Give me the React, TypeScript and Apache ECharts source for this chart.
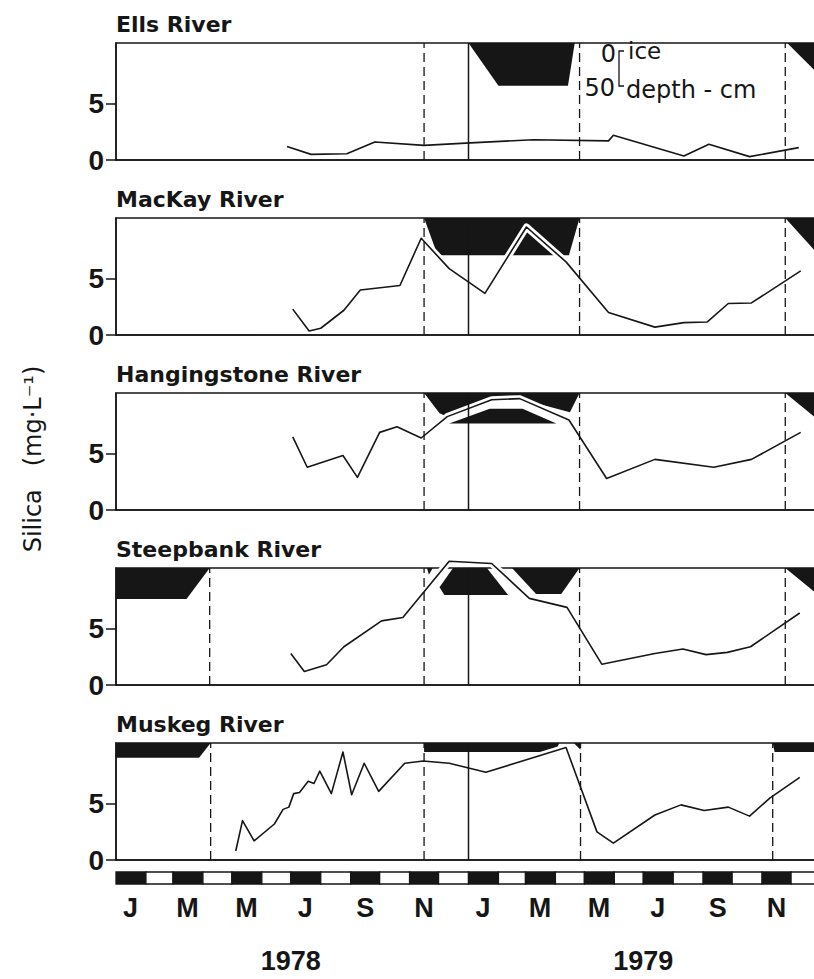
import React, { useEffect, useRef } from 'react';
import * as echarts from 'echarts';

// ---------- data ----------
const riverNames = ['Ells River', 'MacKay River', 'Hangingstone River', 'Steepbank River', 'Muskeg River'];

const ellsDates = ['1978-06-27', '1978-07-22', '1978-08-28', '1978-09-26', '1978-11-16', '1978-12-29', '1979-03-09', '1979-05-26', '1979-05-31', '1979-08-12', '1979-09-07', '1979-10-19', '1979-12-09'];
const ellsSilica = [1.2, 0.5, 0.55, 1.6, 1.3, 1.5, 1.8, 1.7, 2.2, 0.35, 1.4, 0.3, 1.1];

const mackayDates = ['1978-07-03', '1978-07-20', '1978-08-01', '1978-08-25', '1978-09-11', '1978-10-22', '1978-11-13', '1978-12-12', '1979-01-18', '1979-03-02', '1979-04-12', '1979-05-26', '1979-07-13', '1979-08-12', '1979-09-05', '1979-09-27', '1979-10-21', '1979-12-11'];
const mackaySilica = [2.3, 0.35, 0.6, 2.2, 4.0, 4.4, 8.6, 5.9, 3.7, 9.6, 6.5, 2.0, 0.7, 1.1, 1.15, 2.8, 2.85, 5.7];

const hangDates = ['1978-07-03', '1978-07-18', '1978-08-24', '1978-09-08', '1978-10-01', '1978-10-19', '1978-11-13', '1978-12-10', '1979-01-25', '1979-02-23', '1979-04-15', '1979-05-24', '1979-07-13', '1979-09-12', '1979-10-21', '1979-12-11'];
const hangSilica = [6.5, 3.8, 4.85, 2.9, 6.9, 7.4, 6.4, 8.3, 9.8, 9.9, 8.0, 2.8, 4.5, 3.8, 4.5, 6.9];

const steepDates = ['1978-07-01', '1978-07-15', '1978-08-07', '1978-08-25', '1978-10-03', '1978-10-25', '1978-12-12', '1979-01-25', '1979-03-05', '1979-04-13', '1979-05-19', '1979-07-13', '1979-08-11', '1979-09-04', '1979-09-26', '1979-10-20', '1979-12-10'];
const steepSilica = [2.8, 1.2, 1.8, 3.4, 5.7, 6.0, 11.0, 10.8, 7.7, 6.9, 1.85, 2.8, 3.2, 2.7, 2.9, 3.4, 6.4];

const muskegDates = ['1978-05-05', '1978-05-12', '1978-05-24', '1978-06-14', '1978-06-23', '1978-06-29', '1978-07-04', '1978-07-10', '1978-07-19', '1978-07-25', '1978-07-31', '1978-08-12', '1978-08-24', '1978-09-02', '1978-09-15', '1978-09-30', '1978-10-27', '1978-11-15', '1978-12-12', '1979-01-19', '1979-04-12', '1979-05-14', '1979-05-31', '1979-07-13', '1979-08-09', '1979-09-02', '1979-09-27', '1979-10-19', '1979-11-09', '1979-12-10'];
const muskegSilica = [0.8, 3.5, 1.7, 3.2, 4.5, 4.7, 5.9, 6.0, 7.0, 6.8, 7.9, 5.9, 9.6, 5.8, 8.6, 6.1, 8.6, 8.8, 8.6, 7.8, 10.0, 2.5, 1.5, 4.0, 4.9, 4.4, 4.7, 3.9, 5.5, 7.35];

// ice cover outlines (date, position on the silica scale)
const ellsIce: [string, number][][] = [
  [['1979-01-01', 10.4], ['1979-04-21', 10.4], ['1979-04-14', 6.6], ['1979-02-01', 6.6]],
  [['1979-11-27', 10.4], ['1980-01-01', 10.4], ['1980-01-01', 7.4]],
];
const mackayIce: [string, number][][] = [
  [['1978-11-16', 10.4], ['1979-04-26', 10.4], ['1979-04-15', 7.1], ['1978-11-30', 7.1]],
  [['1979-11-25', 10.4], ['1980-01-01', 10.4], ['1980-01-01', 6.9]],
];
const hangIce: [string, number][][] = [
  [['1978-11-16', 10.4], ['1979-04-26', 10.4], ['1979-04-16', 8.7], ['1979-02-23', 9.9], ['1979-01-25', 9.8], ['1978-12-10', 8.3], ['1978-12-02', 8.6]],
  [['1978-12-12', 7.7], ['1979-01-23', 9.0], ['1979-02-26', 9.0], ['1979-04-02', 7.7]],
  [['1979-11-25', 10.4], ['1980-01-01', 10.4], ['1980-01-01', 7.8]],
];
const steepIce: [string, number][][] = [
  [['1978-01-01', 10.4], ['1978-04-08', 10.4], ['1978-03-15', 7.65], ['1978-01-01', 7.65]],
  [['1978-11-19', 10.4], ['1978-11-25', 10.4], ['1978-11-21', 9.8]],
  [['1978-12-16', 10.4], ['1979-01-20', 10.4], ['1979-02-11', 8.0], ['1978-12-07', 8.0], ['1978-12-02', 8.7]],
  [['1979-02-15', 10.4], ['1979-04-26', 10.4], ['1979-04-07', 8.1], ['1979-03-12', 8.1]],
  [['1979-11-25', 10.4], ['1980-01-01', 10.4], ['1980-01-01', 7.8]],
];
const muskegIce: [string, number][][] = [
  [['1978-01-01', 10.4], ['1978-04-09', 10.4], ['1978-03-28', 9.1], ['1978-01-01', 9.1]],
  [['1978-11-16', 10.4], ['1979-04-05', 10.4], ['1979-04-01', 9.6], ['1978-11-16', 9.6]],
  [['1979-04-20', 10.4], ['1979-04-27', 10.4], ['1979-04-27', 9.8]],
  [['1979-11-12', 10.4], ['1980-01-01', 10.4], ['1980-01-01', 9.6], ['1979-11-14', 9.6]],
];

// freeze-up / break-up (dashed) lines
const ellsIceLines = ['1978-11-16', '1979-04-26', '1979-11-25'];
const mackayIceLines = ['1978-11-16', '1979-04-26', '1979-11-25'];
const hangIceLines = ['1978-11-16', '1979-04-26', '1979-11-25'];
const steepIceLines = ['1978-04-08', '1978-11-16', '1979-04-26', '1979-11-25'];
const muskegIceLines = ['1978-04-09', '1978-11-16', '1979-04-27', '1979-11-12'];
const yearLine = '1979-01-01';

// period in which the line is drawn over the ice cover (white halo)
const haloRanges: ([string, string] | null)[] = [
  null,
  ['1978-11-01', '1979-04-30'],
  ['1978-11-01', '1979-04-30'],
  ['1978-10-20', '1979-05-01'],
  ['1979-01-01', '1979-05-20'],
];

const yTickValues = [0, 5];
const monthLabels = ['J', 'M', 'M', 'J', 'S', 'N', 'J', 'M', 'M', 'J', 'S', 'N'];
const monthLabelDates = ['1978-01-16', '1978-03-16', '1978-05-16', '1978-07-16', '1978-09-16', '1978-11-16', '1979-01-16', '1979-03-16', '1979-05-16', '1979-07-16', '1979-09-16', '1979-11-16'];
const yearLabels = ['1978', '1979'];
const yearLabelDates = ['1978-07-01', '1979-07-01'];

// ---------- helpers / layout ----------
const ORIGIN = Date.UTC(1978, 0, 1);
const day = (s: string) => (Date.UTC(+s.slice(0, 4), +s.slice(5, 7) - 1, +s.slice(8, 10)) - ORIGIN) / 86400000;
const X_MAX = day('1980-01-01');
const Y_MAX = 10.4;
const INK = '#161616';
const FONT = 'DejaVu Sans';
const FONT2 = 'Liberation Sans';
const ZERO_Y = [160, 335, 510, 685, 860];
const PLOT_H = 117;
const GRID_LEFT = 116;
const GRID_W = 705;

const rivers = [
  { name: riverNames[0], dates: ellsDates, silica: ellsSilica, ice: ellsIce, lines: ellsIceLines },
  { name: riverNames[1], dates: mackayDates, silica: mackaySilica, ice: mackayIce, lines: mackayIceLines },
  { name: riverNames[2], dates: hangDates, silica: hangSilica, ice: hangIce, lines: hangIceLines },
  { name: riverNames[3], dates: steepDates, silica: steepSilica, ice: steepIce, lines: steepIceLines },
  { name: riverNames[4], dates: muskegDates, silica: muskegSilica, ice: muskegIce, lines: muskegIceLines },
];

const monthStarts: number[] = [];
for (let y = 1978; y <= 1979; y++) for (let m = 0; m < 12; m++) monthStarts.push((Date.UTC(y, m, 1) - ORIGIN) / 86400000);
monthStarts.push(X_MAX);
const monthLabelDays = monthLabelDates.map(day);
const yearLabelDays = yearLabelDates.map(day);

function buildOption() {
  const grids: any[] = [];
  const xAxes: any[] = [];
  const yAxes: any[] = [];
  const series: any[] = [];
  const titles: any[] = [];

  rivers.forEach((r, i) => {
    const top = ZERO_Y[i] - PLOT_H;
    grids.push({ left: GRID_LEFT, width: GRID_W, top, height: PLOT_H, show: true, borderColor: INK, borderWidth: 1.5, backgroundColor: 'transparent', outerBoundsMode: 'none', containLabel: false });
    titles.push({ text: r.name, left: GRID_LEFT, top: top - 30, padding: 0, textStyle: { fontFamily: FONT, fontWeight: 'bold', fontSize: 22, color: INK } });
    xAxes.push({
      type: 'value', gridIndex: i, min: 0, max: X_MAX,
      axisLine: { show: true, onZero: false, lineStyle: { color: INK, width: 1.5 } },
      axisTick: { show: false }, axisLabel: { show: false }, splitLine: { show: false },
    });
    yAxes.push({
      type: 'value', gridIndex: i, min: 0, max: Y_MAX,
      axisLine: { show: true, lineStyle: { color: INK, width: 1.5 } },
      axisTick: { show: true, length: 10, customValues: yTickValues, lineStyle: { color: INK, width: 1.5 } },
      axisLabel: { customValues: yTickValues, fontFamily: FONT2, fontWeight: 'bold', fontSize: 28, color: INK, margin: 12 },
      splitLine: { show: false },
    });
    const pts = r.dates.map((d, k) => [day(d), r.silica[k]]);
    // ice polygons
    series.push({
      type: 'custom', xAxisIndex: i, yAxisIndex: i, z: 2, silent: true,
      data: r.ice.map((p) => [day(p[0][0]), p[0][1]]),
      renderItem: (params: any, api: any) => {
        const poly = r.ice[params.dataIndex];
        return { type: 'polygon', shape: { points: poly.map(([t, v]) => api.coord([day(t), v])) }, style: { fill: INK } };
      },
    });
    // white halo where the line runs through the ice
    const hr = haloRanges[i];
    if (hr) {
      const a = day(hr[0]);
      const b = day(hr[1]);
      series.push({
        type: 'line', xAxisIndex: i, yAxisIndex: i, z: 3, silent: true, clip: false,
        symbol: 'none', data: pts.filter((p) => p[0] >= a && p[0] <= b),
        lineStyle: { color: '#ffffff', width: 7, join: 'round', cap: 'round' },
      });
    }
    // vertical lines: dashed ice lines + solid year line
    const vlines = [...r.lines.map((s) => [day(s), 1]), [day(yearLine), 0]];
    series.push({
      type: 'custom', xAxisIndex: i, yAxisIndex: i, z: 4, silent: true,
      data: vlines,
      renderItem: (params: any, api: any) => {
        const x = api.value(0);
        const dashed = api.value(1) === 1;
        const p0 = api.coord([x, 0]);
        const p1 = api.coord([x, Y_MAX]);
        return {
          type: 'line', shape: { x1: p0[0], y1: p0[1], x2: p1[0], y2: p1[1] },
          style: { stroke: INK, lineWidth: dashed ? 1.3 : 1.5, lineDash: dashed ? [9, 5] : null },
        };
      },
    });
    // silica line
    series.push({
      type: 'line', name: r.name, xAxisIndex: i, yAxisIndex: i, z: 5, clip: false,
      symbol: 'none', data: pts, lineStyle: { color: INK, width: 1.6, join: 'round' },
    });
  });

  // month bar
  const gi = rivers.length;
  grids.push({ left: GRID_LEFT, width: GRID_W, top: 872, height: 12, show: false, outerBoundsMode: 'none', containLabel: false });
  xAxes.push({
    type: 'value', gridIndex: gi, min: 0, max: X_MAX,
    axisLine: { show: false }, axisTick: { show: false }, splitLine: { show: false },
    axisLabel: {
      customValues: monthLabelDays, margin: 10, fontFamily: FONT2, fontWeight: 'bold', fontSize: 27, color: INK,
      formatter: (v: number) => monthLabels[monthLabelDays.indexOf(v)] ?? '',
    },
  });
  xAxes.push({
    type: 'value', gridIndex: gi, min: 0, max: X_MAX, position: 'bottom', offset: 53,
    axisLine: { show: false }, axisTick: { show: false }, splitLine: { show: false },
    axisLabel: {
      customValues: yearLabelDays, margin: 10, fontFamily: FONT2, fontWeight: 'bold', fontSize: 27, color: INK,
      formatter: (v: number) => yearLabels[yearLabelDays.indexOf(v)] ?? '',
    },
  });
  yAxes.push({ type: 'value', gridIndex: gi, min: 0, max: 1, show: false });
  series.push({
    type: 'custom', xAxisIndex: gi, yAxisIndex: gi, silent: true,
    data: monthStarts.slice(0, -1).map((s, k) => [s, k]),
    renderItem: (params: any, api: any) => {
      const k = params.dataIndex;
      const a = api.coord([monthStarts[k], 1]);
      const b = api.coord([monthStarts[k + 1], 0]);
      return {
        type: 'rect', shape: { x: a[0], y: a[1], width: b[0] - a[0], height: b[1] - a[1] },
        style: { fill: k % 2 === 0 ? INK : '#ffffff', stroke: INK, lineWidth: 1.3 },
      };
    },
  });

  const graphic: any[] = [
    {
      type: 'text', x: 33, y: 459, rotation: Math.PI / 2,
      style: { text: 'Silica   (mg·L⁻¹)', fontFamily: FONT, fontSize: 24, fill: INK, align: 'center', verticalAlign: 'middle' },
    },
    { type: 'text', x: 616, y: 54, style: { text: '0', fontFamily: FONT, fontSize: 24, fill: INK, align: 'right', verticalAlign: 'middle' } },
    { type: 'text', x: 628, y: 51, style: { text: 'ice', fontFamily: FONT, fontSize: 23, fill: INK, align: 'left', verticalAlign: 'middle' } },
    { type: 'text', x: 615, y: 88, style: { text: '50', fontFamily: FONT, fontSize: 24, fill: INK, align: 'right', verticalAlign: 'middle' } },
    { type: 'text', x: 626, y: 90, style: { text: 'depth - cm', fontFamily: FONT, fontSize: 24, fill: INK, align: 'left', verticalAlign: 'middle' } },
    { type: 'polyline', shape: { points: [[624, 51], [619, 51], [619, 86], [624, 86]] }, style: { stroke: INK, lineWidth: 1.3, fill: null } },
  ];

  return {
    animation: false,
    backgroundColor: '#ffffff',
    title: titles,
    grid: grids,
    xAxis: xAxes,
    yAxis: yAxes,
    series,
    graphic,
  };
}

export default function App() {
  const ref = useRef<HTMLDivElement>(null);
  useEffect(() => {
    const chart = echarts.init(ref.current!, null, { renderer: 'svg' });
    chart.setOption(buildOption() as any);
    return () => chart.dispose();
  }, []);
  return <div ref={ref} style={{ position: 'absolute', left: 0, top: 0, width: 814, height: 979, background: '#fff' }} />;
}
